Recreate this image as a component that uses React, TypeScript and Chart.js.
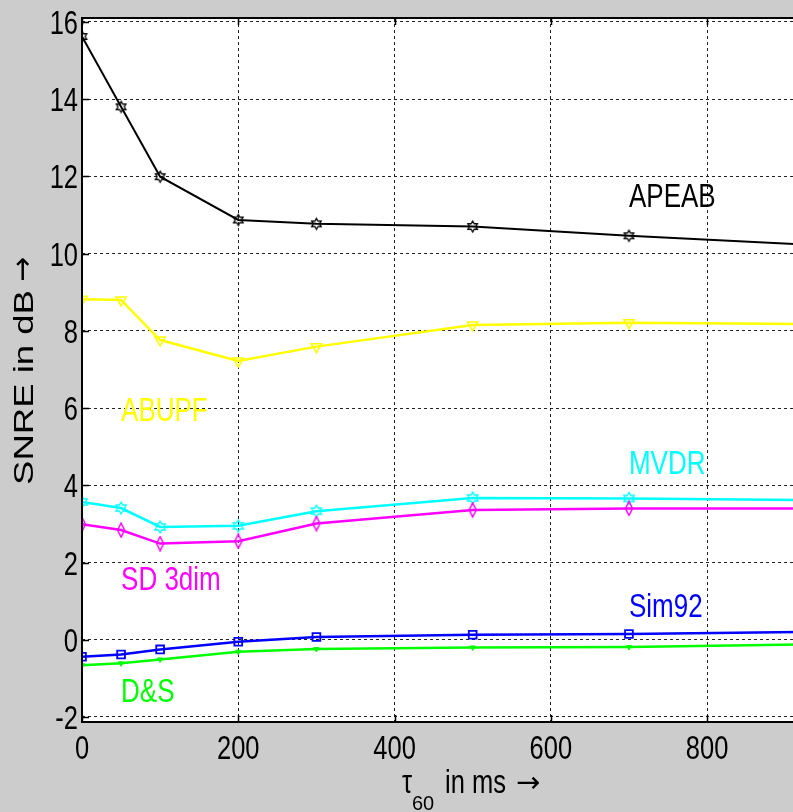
import React, { useEffect, useRef } from "react";
import { Chart, registerables } from "chart.js";
Chart.register(...registerables);

// ---- data ----
const tau60 = [0, 50, 100, 200, 300, 500, 700, 1000];
const apeab = [15.62, 13.8, 11.99, 10.87, 10.77, 10.7, 10.46, 10.16];
const abupf = [8.82, 8.8, 7.76, 7.22, 7.59, 8.15, 8.21, 8.16];
const mvdr = [3.57, 3.41, 2.92, 2.95, 3.33, 3.67, 3.66, 3.6];
const sd3dim = [2.99, 2.84, 2.49, 2.55, 3.01, 3.36, 3.4, 3.4];
const sim92 = [-0.44, -0.38, -0.25, -0.05, 0.07, 0.13, 0.15, 0.22];
const dands = [-0.66, -0.61, -0.51, -0.31, -0.24, -0.2, -0.19, -0.1];

const xTickValues = [0, 200, 400, 600, 800];
const yTickValues = [-2, 0, 2, 4, 6, 8, 10, 12, 14, 16];

const seriesNames = ["APEAB", "ABUPF", "MVDR", "SD 3dim", "Sim92", "D&S"];
const seriesColors = ["#000000", "#ffff00", "#00ffff", "#ff00ff", "#0000ff", "#00ff00"];
// label anchors in data coordinates (left edge, baseline)
const labelAtX = [700, 50, 700, 50, 700, 50];
const labelAtY = [11.21, 5.67, 4.28, 1.28, 0.585, -1.61];

const FONT = '"Liberation Sans", Arial, Helvetica, sans-serif';
const ARROW_FONT = '"DejaVu Sans", sans-serif';

function drawText(
  ctx: CanvasRenderingContext2D,
  s: string,
  x: number,
  y: number,
  size: number,
  color: string,
  align: CanvasTextAlign,
  sx = 1,
  sy = 1.3,
  family = FONT
) {
  ctx.save();
  ctx.translate(x, y);
  ctx.scale(sx, sy);
  ctx.font = `${size}px ${family}`;
  ctx.fillStyle = color;
  ctx.textAlign = align;
  ctx.textBaseline = "alphabetic";
  ctx.fillText(s, 0, 0);
  ctx.restore();
}

function hexagram(color: string, R: number) {
  const c = document.createElement("canvas");
  const size = Math.ceil(R * 2 + 4);
  c.width = size;
  c.height = size;
  const g = c.getContext("2d")!;
  const cx = size / 2;
  const cy = size / 2;
  const r = R / Math.sqrt(3);
  g.beginPath();
  for (let i = 0; i < 12; i++) {
    const a = -Math.PI / 2 + (i * Math.PI) / 6;
    const rr = i % 2 === 0 ? R : r;
    const px = cx + rr * Math.cos(a);
    const py = cy + rr * Math.sin(a);
    if (i === 0) g.moveTo(px, py);
    else g.lineTo(px, py);
  }
  g.closePath();
  g.strokeStyle = color;
  g.lineWidth = 1.3;
  g.stroke();
  return c;
}

function diamond(color: string) {
  const c = document.createElement("canvas");
  c.width = 10;
  c.height = 16;
  const g = c.getContext("2d")!;
  g.beginPath();
  g.moveTo(5, 1);
  g.lineTo(8.5, 8);
  g.lineTo(5, 15);
  g.lineTo(1.5, 8);
  g.closePath();
  g.strokeStyle = color;
  g.lineWidth = 1.5;
  g.stroke();
  return c;
}

const framePlugin = {
  id: "frame",
  beforeDraw(chart: any) {
    const { ctx, chartArea: a, width, height } = chart;
    ctx.save();
    ctx.fillStyle = "#cccccc";
    ctx.fillRect(0, 0, width, height);
    ctx.fillStyle = "#ffffff";
    ctx.fillRect(a.left, a.top, a.right - a.left + 20, a.bottom - a.top);
    ctx.restore();
  },
  afterDraw(chart: any) {
    const { ctx, chartArea: a } = chart;
    const xs = chart.scales.x;
    const ys = chart.scales.y;
    ctx.save();
    // axes box
    ctx.strokeStyle = "#000";
    ctx.lineWidth = 2;
    ctx.beginPath();
    ctx.moveTo(a.right + 20, a.top);
    ctx.lineTo(a.left, a.top);
    ctx.lineTo(a.left, a.bottom);
    ctx.lineTo(a.right + 20, a.bottom);
    ctx.stroke();
    // inner ticks
    ctx.lineWidth = 1.5;
    ctx.beginPath();
    yTickValues.forEach((v) => {
      const py = Math.round(ys.getPixelForValue(v)) + 0.5;
      ctx.moveTo(a.left, py);
      ctx.lineTo(a.left + 7, py);
    });
    xTickValues.forEach((v) => {
      const px = Math.round(xs.getPixelForValue(v)) + 0.5;
      ctx.moveTo(px, a.bottom);
      ctx.lineTo(px, a.bottom - 7);
      ctx.moveTo(px, a.top);
      ctx.lineTo(px, a.top + 7);
    });
    ctx.stroke();
    // tick labels
    yTickValues.forEach((v) => {
      const py = ys.getPixelForValue(v);
      drawText(ctx, String(v), a.left - 4, py + 12, 25.5, "#000", "right");
    });
    xTickValues.forEach((v) => {
      const px = xs.getPixelForValue(v);
      drawText(ctx, String(v), px, a.bottom + 37, 25.5, "#000", "center");
    });
    // x title: tau_60 in ms ->
    drawText(ctx, "\u03c4", 402, 793, 25.5, "#000", "left");
    drawText(ctx, "60", 412, 810, 20, "#000", "left", 1, 1.05);
    drawText(ctx, "in ms", 445, 793, 25.5, "#000", "left");
    drawText(ctx, "\u2192", 516, 792, 29, "#000", "left", 1, 1, ARROW_FONT);
    // y title (rotated)
    ctx.save();
    const yt = "SNRE in dB";
    ctx.font = `27px ${FONT}`;
    const w = ctx.measureText(yt).width;
    const sx = 195 / w;
    ctx.translate(33, 485);
    ctx.rotate(-Math.PI / 2);
    ctx.save();
    ctx.scale(sx, 1);
    ctx.fillStyle = "#000";
    ctx.textAlign = "left";
    ctx.textBaseline = "alphabetic";
    ctx.fillText(yt, 0, 0);
    ctx.restore();
    ctx.font = `30px ${ARROW_FONT}`;
    ctx.fillStyle = "#000";
    ctx.textAlign = "left";
    ctx.textBaseline = "alphabetic";
    ctx.fillText("\u2192", 203, -1);
    ctx.restore();
    // series labels
    seriesNames.forEach((name, i) => {
      const px = xs.getPixelForValue(labelAtX[i]);
      const py = ys.getPixelForValue(labelAtY[i]);
      drawText(ctx, name, px, py, 26, seriesColors[i], "left", 1, 1.29);
    });
    ctx.restore();
  },
};

export default function App() {
  const ref = useRef<HTMLCanvasElement | null>(null);
  useEffect(() => {
    if (!ref.current) return;
    const pts = (ys: number[]) => ys.map((y, i) => ({ x: tau60[i], y }));
    const hexBlack = hexagram("#000000", 5.5);
    const hexCyan = hexagram("#00ffff", 6);
    const dia = diamond("#ff00ff");
    const chart = new Chart(ref.current, {
      type: "line",
      data: {
        datasets: [
          {
            label: "D&S",
            data: pts(dands),
            borderColor: "#00ff00",
            backgroundColor: "#00ff00",
            borderWidth: 2.5,
            pointStyle: "triangle",
            pointRotation: 180,
            pointRadius: 3,
            pointBorderWidth: 1,
          },
          {
            label: "Sim92",
            data: pts(sim92),
            borderColor: "#0000ff",
            backgroundColor: "rgba(0,0,0,0)",
            borderWidth: 2.5,
            pointStyle: "rect",
            pointRadius: 5.5,
            pointBorderWidth: 1.8,
          },
          {
            label: "SD 3dim",
            data: pts(sd3dim),
            borderColor: "#ff00ff",
            backgroundColor: "rgba(0,0,0,0)",
            borderWidth: 2.5,
            pointStyle: dia as any,
          },
          {
            label: "MVDR",
            data: pts(mvdr),
            borderColor: "#00ffff",
            backgroundColor: "rgba(0,0,0,0)",
            borderWidth: 2.5,
            pointStyle: hexCyan as any,
          },
          {
            label: "ABUPF",
            data: pts(abupf),
            borderColor: "#ffff00",
            backgroundColor: "rgba(0,0,0,0)",
            borderWidth: 2.5,
            pointStyle: "triangle",
            pointRotation: 180,
            pointRadius: 6,
            pointBorderWidth: 1.5,
          },
          {
            label: "APEAB",
            data: pts(apeab),
            borderColor: "#000000",
            backgroundColor: "rgba(0,0,0,0)",
            borderWidth: 2,
            pointStyle: hexBlack as any,
          },
        ],
      },
      options: {
        animation: false,
        responsive: false,
        events: [],
        layout: { padding: { left: 82, top: 18, right: 0, bottom: 90 } },
        plugins: { legend: { display: false }, tooltip: { enabled: false } },
        elements: { line: { tension: 0 } },
        scales: {
          x: {
            type: "linear",
            min: 0,
            max: 917,
            afterBuildTicks: (s: any) => {
              s.ticks = xTickValues.map((v) => ({ value: v }));
            },
            afterFit: (s: any) => {
              s.height = 0;
            },
            ticks: { display: false },
            grid: { color: "#222", lineWidth: 1, drawTicks: false },
            border: { display: false, dash: [3, 3] },
          },
          y: {
            type: "linear",
            min: -2.13,
            max: 16.1,
            afterBuildTicks: (s: any) => {
              s.ticks = yTickValues.map((v) => ({ value: v }));
            },
            afterFit: (s: any) => {
              s.width = 0;
            },
            ticks: { display: false },
            grid: { color: "#222", lineWidth: 1, drawTicks: false },
            border: { display: false, dash: [3, 3] },
          },
        },
      },
      plugins: [framePlugin],
    } as any);
    return () => chart.destroy();
  }, []);
  return (
    <div style={{ position: "fixed", left: 0, top: 0, width: 793, height: 812, overflow: "hidden" }}>
      <canvas ref={ref} width={806} height={812} style={{ display: "block", width: 806, height: 812 }} />
    </div>
  );
}
